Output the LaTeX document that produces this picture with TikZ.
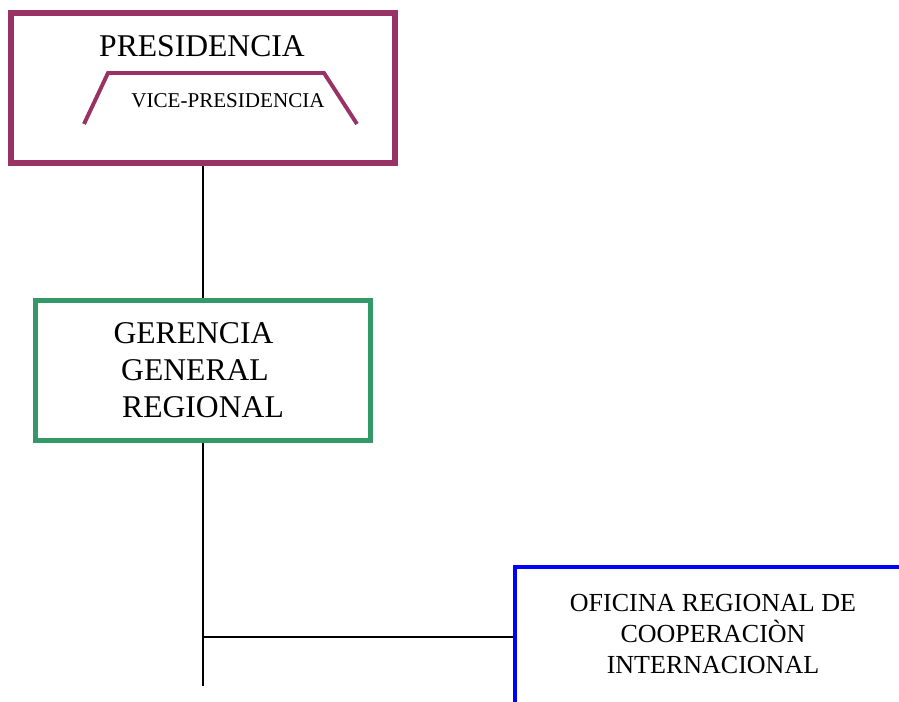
\documentclass[tikz,border=0pt]{standalone}
\usepackage{fontspec}
\setmainfont{Liberation Serif}
\usetikzlibrary{positioning}
\definecolor{presi}{HTML}{993366}
\definecolor{geren}{HTML}{339966}
\definecolor{ofici}{HTML}{0000FF}

\begin{document}
\begin{tikzpicture}[x=0.025cm,y=-0.025cm,
  caja/.style={draw,rectangle,inner sep=0pt},
  grande/.style={font=\fontsize{22.5}{26.3}\selectfont},
  enlace/.style={draw=black,line width=1.4pt}]
\useasboundingbox (0,0) rectangle (899,702);

\node[caja,draw=presi,line width=4.3pt,minimum width=9.6cm,minimum height=3.75cm] (pres) at (203,88) {};
\node[grande,inner sep=0pt] (prestxt) at (202,46) {PRESIDENCIA};
\node[inner sep=0pt,font=\fontsize{15}{18}\selectfont] (vice) at (228,101) {VICE-PRESIDENCIA};
\draw[presi,line width=2.8pt] (84,124) -- (108,73) -- (324,73) -- (357,124);

\node[caja,grande,draw=geren,line width=3.6pt,minimum width=8.375cm,minimum height=3.5cm,align=center] (ger) at (203,370.5)
  {\mbox{GERENCIA\hspace{0.475cm}}\\\mbox{GENERAL\hspace{0.4cm}}\\REGIONAL};

\node[caja,draw=ofici,line width=2.8pt,minimum width=12.5cm,minimum height=6cm,anchor=north west] (ofi) at (513,565) {};
\node[inner sep=0pt,align=center,font=\fontsize{18.5}{21.7}\selectfont] (ofitxt) at (713,634)
  {OFICINA REGIONAL DE\\COOPERACIÒN\\INTERNACIONAL};

\coordinate (rama) at (203,637);
\coordinate (fin) at (203,686);

\draw[enlace] (pres.south) -- (ger.north);
\draw[enlace] (ger.south) -- (fin);
\draw[enlace] (rama) -- (rama -| ofi.west);

\end{tikzpicture}
\end{document}
